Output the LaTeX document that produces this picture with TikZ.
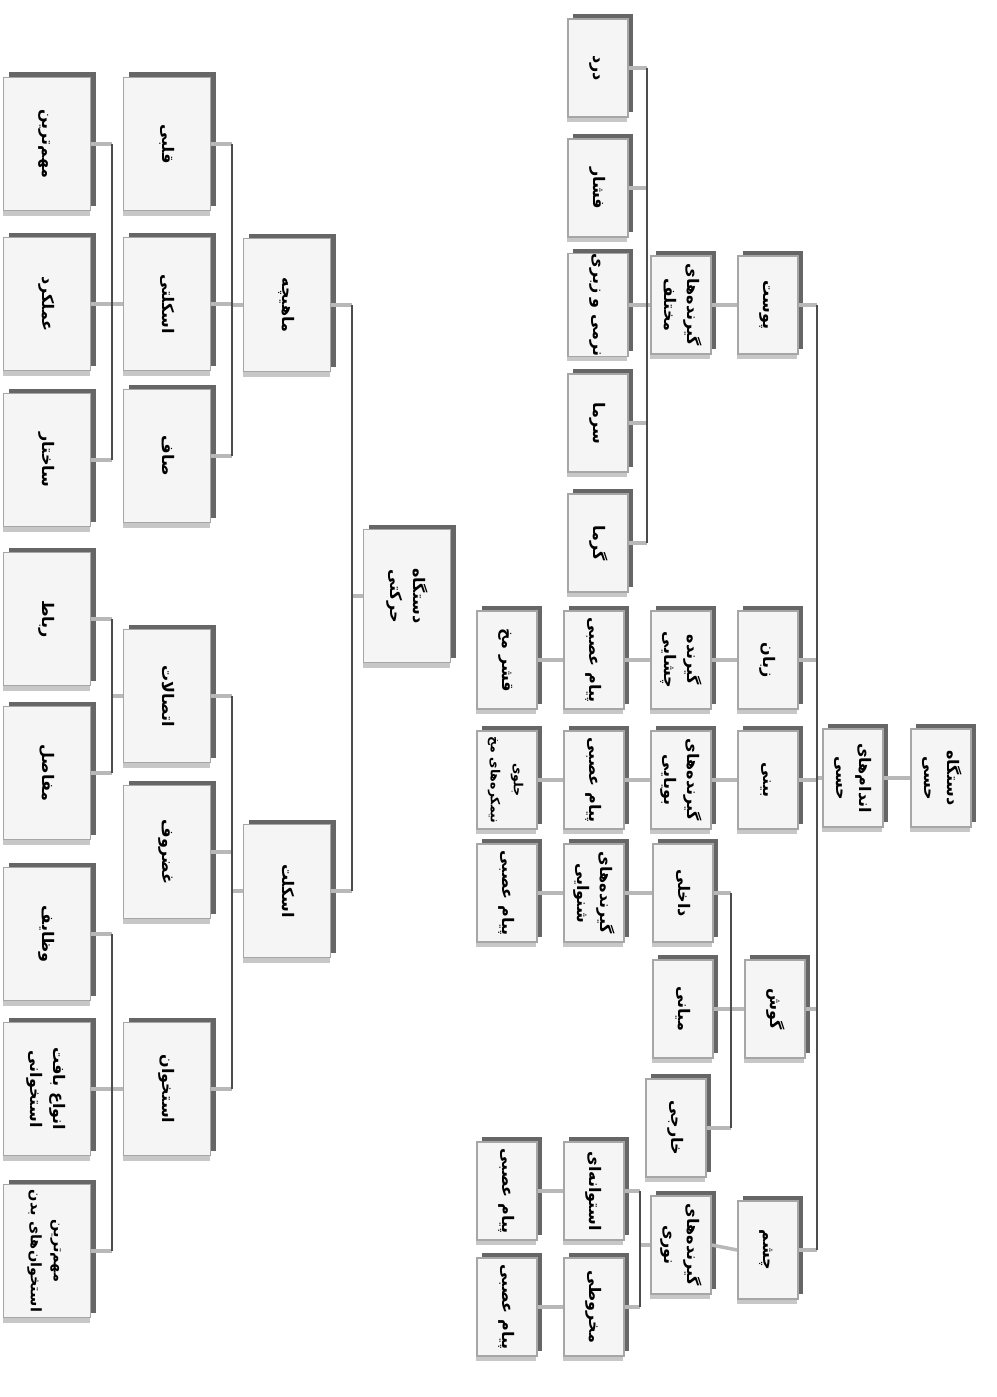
\documentclass[tikz,border=0pt]{standalone}
\usepackage{fontspec}
\usepackage{graphicx}
\usetikzlibrary{shadows}
\TeXXeTstate=1
\newfontfamily\farsifont[Script=Arabic]{DejaVu Sans}
\newcommand{\fa}[1]{\beginR #1\endR}
\newcommand{\vlabel}[2][16]{\rotatebox{-90}{\farsifont\bfseries\fontsize{#1}{23}\selectfont
  \begin{tabular}{@{}c@{}}#2\end{tabular}}}

\begin{document}
\begin{tikzpicture}[x=1pt, y=-1pt,
    box/.style={draw=black!35, line width=1.6pt, fill=black!4, inner sep=0pt,
      drop shadow={shadow xshift=-1pt, shadow yshift=-5pt, fill=black!22, opacity=1},
      drop shadow={shadow xshift=5pt, shadow yshift=5pt, fill=black!60, opacity=1}},
    sbox/.style={box, minimum width=60pt, minimum height=98pt},
    mbox/.style={box, minimum width=87pt, minimum height=133pt},
    bus/.style={draw=black!70, line width=2.6pt},
    stub/.style={draw=black!28, line width=3.5pt}]
\fill[white] (0,0) rectangle (996,1397);
\useasboundingbox (0,0) rectangle (996,1397);

% Sensory system (right tree)
\begin{scope}
    \node[sbox] (hessi) at (941,778) {\vlabel{\fa{دستگاه}\\\fa{حسی}}};
    \node[sbox] (andam) at (853,778) {\vlabel{\fa{اندام‌های}\\\fa{حسی}}};

    % sense organs
    \node[sbox] (pust)   at (768,305)  {\vlabel{\fa{پوست}}};
    \node[sbox] (zaban)  at (768,660)  {\vlabel{\fa{زبان}}};
    \node[sbox] (bini)   at (768,780)  {\vlabel{\fa{بینی}}};
    \node[sbox] (goosh)  at (775,1009) {\vlabel{\fa{گوش}}};
    \node[sbox] (chashm) at (768,1250) {\vlabel{\fa{چشم}}};

    % skin
    \node[sbox] (girande) at (681,305) {\vlabel{\fa{گیرنده‌های}\\\fa{مختلف}}};
    \foreach \y/\n/\t in {68/dard/درد, 188/feshar/فشار, 305/narmi/نرمی و زبری,
                          423/sarma/سرما, 543/garma/گرما}
        \node[sbox] (\n) at (598,\y) {\vlabel{\fa{\t}}};

    % tongue and nose
    \node[sbox] (chashaei) at (681,660) {\vlabel{\fa{گیرنده}\\\fa{چشایی}}};
    \node[sbox] (payamA)   at (594,660) {\vlabel{\fa{پیام عصبی}}};
    \node[sbox] (ghesher)  at (507,660) {\vlabel{\fa{قشر مخ}}};
    \node[sbox] (booyaei)  at (681,780) {\vlabel{\fa{گیرنده‌های}\\\fa{بویایی}}};
    \node[sbox] (payamB)   at (594,780) {\vlabel{\fa{پیام عصبی}}};
    \node[sbox] (jolo)     at (507,780) {\vlabel[12.5]{\fa{جلوی}\\\fa{نیمکره‌های مخ}}};

    % ear
    \node[sbox] (dakheli)   at (683,893)  {\vlabel{\fa{داخلی}}};
    \node[sbox] (miani)     at (683,1009) {\vlabel{\fa{میانی}}};
    \node[sbox] (khareji)   at (676,1128) {\vlabel{\fa{خارجی}}};
    \node[sbox] (shenavaei) at (594,893)  {\vlabel{\fa{گیرنده‌های}\\\fa{شنوایی}}};
    \node[sbox] (payamC)    at (507,893)  {\vlabel{\fa{پیام عصبی}}};

    % eye
    \node[sbox] (noori)     at (681,1245) {\vlabel{\fa{گیرنده‌های}\\\fa{نوری}}};
    \node[sbox] (ostovanei) at (594,1191) {\vlabel{\fa{استوانه‌ای}}};
    \node[sbox] (makhrooti) at (594,1307) {\vlabel{\fa{مخروطی}}};
    \node[sbox] (payamD)    at (507,1191) {\vlabel{\fa{پیام عصبی}}};
    \node[sbox] (payamE)    at (507,1307) {\vlabel{\fa{پیام عصبی}}};

    % connectors
    \coordinate (busS) at (817,0);
    \coordinate (busP) at (647,0);
    \coordinate (busG) at (731,0);
    \coordinate (busC) at (640,0);
    \draw[stub] (hessi.west) -- (andam.east);
    \draw[stub] (andam.west) -- (andam.west -| busS);
    \foreach \n in {pust,zaban,bini,goosh,chashm}
        \draw[stub] (\n.east) -- (\n.east -| busS);
    \draw[bus] (pust.east -| busS) -- (chashm.east -| busS);

    \draw[stub] (pust.west) -- (girande.east);
    \draw[stub] (girande.west) -- (girande.west -| busP);
    \foreach \n in {dard,feshar,narmi,sarma,garma}
        \draw[stub] (\n.east) -- (\n.east -| busP);
    \draw[bus] (dard.east -| busP) -- (garma.east -| busP);

    \draw[stub] (zaban.west) -- (chashaei.east);
    \draw[stub] (chashaei.west) -- (payamA.east);
    \draw[stub] (payamA.west) -- (ghesher.east);
    \draw[stub] (bini.west) -- (booyaei.east);
    \draw[stub] (booyaei.west) -- (payamB.east);
    \draw[stub] (payamB.west) -- (jolo.east);

    \draw[stub] (goosh.west) -- (goosh.west -| busG);
    \foreach \n in {dakheli,miani,khareji}
        \draw[stub] (\n.east) -- (\n.east -| busG);
    \draw[bus] (dakheli.east -| busG) -- (khareji.east -| busG);
    \draw[stub] (dakheli.west) -- (shenavaei.east);
    \draw[stub] (shenavaei.west) -- (payamC.east);

    \draw[stub] (chashm.west) -- (noori.east);
    \draw[stub] (noori.west) -- (noori.west -| busC);
    \foreach \n in {ostovanei,makhrooti}
        \draw[stub] (\n.east) -- (\n.east -| busC);
    \draw[bus] (ostovanei.east -| busC) -- (makhrooti.east -| busC);
    \draw[stub] (ostovanei.west) -- (payamD.east);
    \draw[stub] (makhrooti.west) -- (payamE.east);
\end{scope}

% Motor system (left tree)
\begin{scope}
    \node[mbox] (harakati) at (407,596) {\vlabel{\fa{دستگاه}\\\fa{حرکتی}}};
    \node[mbox] (mahiche)  at (287,305) {\vlabel{\fa{ماهیچه}}};
    \node[mbox] (eskelet)  at (287,891) {\vlabel{\fa{اسکلت}}};

    \node[mbox] (ghalbi)    at (167,144)  {\vlabel{\fa{قلبی}}};
    \node[mbox] (eskeleti)  at (167,304)  {\vlabel{\fa{اسکلتی}}};
    \node[mbox] (saf)       at (167,456)  {\vlabel{\fa{صاف}}};
    \node[mbox] (ettesalat) at (167,696)  {\vlabel{\fa{اتصالات}}};
    \node[mbox] (ghozroof)  at (167,852)  {\vlabel{\fa{غضروف}}};
    \node[mbox] (ostokhan)  at (167,1089) {\vlabel{\fa{استخوان}}};

    \node[mbox] (mohem)    at (47,144)  {\vlabel{\fa{مهم‌ترین}}};
    \node[mbox] (amalkard) at (47,304)  {\vlabel{\fa{عملکرد}}};
    \node[mbox] (sakhtar)  at (47,460)  {\vlabel{\fa{ساختار}}};
    \node[mbox] (rebat)    at (47,619)  {\vlabel{\fa{رباط}}};
    \node[mbox] (mafasel)  at (47,773)  {\vlabel{\fa{مفاصل}}};
    \node[mbox] (vazayef)  at (47,934)  {\vlabel{\fa{وظایف}}};
    \node[mbox] (anva)     at (47,1089) {\vlabel{\fa{انواع بافت}\\\fa{استخوانی}}};
    \node[mbox] (mohemOst) at (47,1251) {\vlabel[14.5]{\fa{مهم‌ترین}\\\fa{استخوان‌های بدن}}};

    % connectors
    \coordinate (busM) at (352,0);
    \coordinate (busL) at (232,0);
    \coordinate (busF) at (112,0);
    \draw[stub] (harakati.west) -- (harakati.west -| busM);
    \foreach \n in {mahiche,eskelet}
        \draw[stub] (\n.east) -- (\n.east -| busM);
    \draw[bus] (mahiche.east -| busM) -- (eskelet.east -| busM);

    \draw[stub] (mahiche.west) -- (mahiche.west -| busL);
    \foreach \n in {ghalbi,eskeleti,saf}
        \draw[stub] (\n.east) -- (\n.east -| busL);
    \draw[bus] (ghalbi.east -| busL) -- (saf.east -| busL);

    \draw[stub] (eskelet.west) -- (eskelet.west -| busL);
    \foreach \n in {ettesalat,ghozroof,ostokhan}
        \draw[stub] (\n.east) -- (\n.east -| busL);
    \draw[bus] (ettesalat.east -| busL) -- (ostokhan.east -| busL);

    \draw[stub] (eskeleti.west) -- (eskeleti.west -| busF);
    \foreach \n in {mohem,amalkard,sakhtar}
        \draw[stub] (\n.east) -- (\n.east -| busF);
    \draw[bus] (mohem.east -| busF) -- (sakhtar.east -| busF);

    \draw[stub] (ettesalat.west) -- (ettesalat.west -| busF);
    \foreach \n in {rebat,mafasel}
        \draw[stub] (\n.east) -- (\n.east -| busF);
    \draw[bus] (rebat.east -| busF) -- (mafasel.east -| busF);

    \draw[stub] (ostokhan.west) -- (ostokhan.west -| busF);
    \foreach \n in {vazayef,anva,mohemOst}
        \draw[stub] (\n.east) -- (\n.east -| busF);
    \draw[bus] (vazayef.east -| busF) -- (mohemOst.east -| busF);
\end{scope}
\end{tikzpicture}
\end{document}
